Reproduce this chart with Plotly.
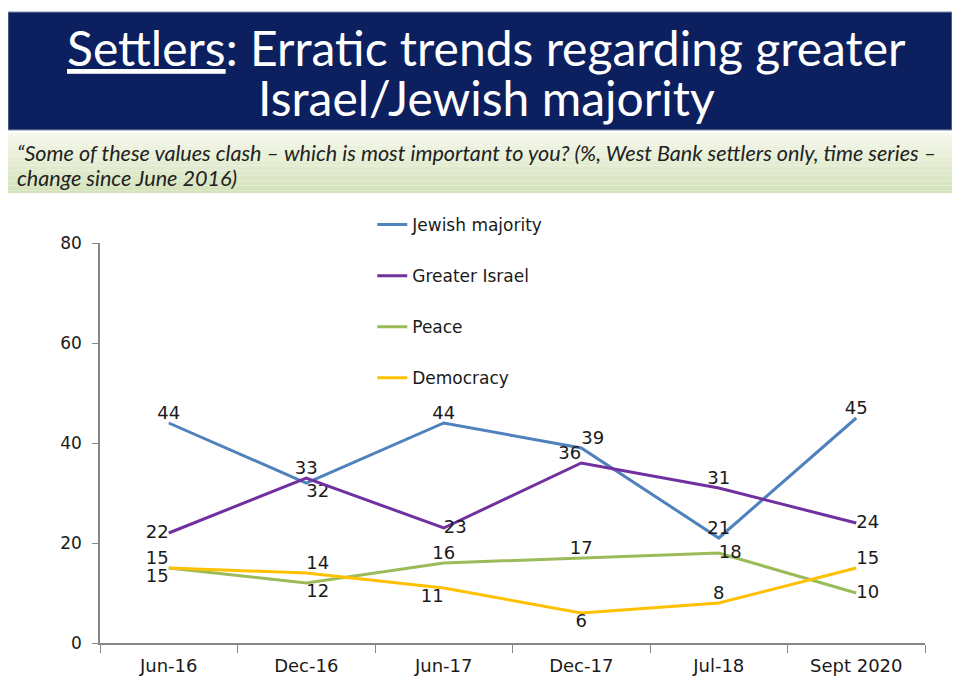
import plotly.graph_objects as go

# Data
PERIODS = ["Jun-16", "Dec-16", "Jun-17", "Dec-17", "Jul-18", "Sept 2020"]
JEWISH_MAJORITY = [44, 32, 44, 39, 21, 45]
GREATER_ISRAEL = [22, 33, 23, 36, 31, 24]
PEACE = [15, 12, 16, 17, 18, 10]
DEMOCRACY = [15, 14, 11, 6, 8, 15]

COLORS = {
    "navy": "#0C1F5F",
    "blue": "#4F81BD",
    "purple": "#7030A0",
    "green": "#9BBB59",
    "yellow": "#FFC000",
    "axis": "#868686",
    "text": "#1A1A1A",
}
CHART_FONT = "DejaVu Sans"

series = [
    ("Jewish majority", JEWISH_MAJORITY, COLORS["blue"],
     ["top center", "bottom right", "top center", "top right", "top center", "top center"]),
    ("Greater Israel", GREATER_ISRAEL, COLORS["purple"],
     ["middle left", "top center", "middle right", "top left", "top center", "middle right"]),
    ("Peace", PEACE, COLORS["green"],
     ["bottom left", "bottom right", "top center", "top center", "middle right", "middle right"]),
    ("Democracy", DEMOCRACY, COLORS["yellow"],
     ["top left", "top right", "bottom left", "bottom center", "top center", "top right"]),
]

fig = go.Figure()
for name, values, color, positions in series:
    fig.add_trace(
        go.Scatter(
            x=PERIODS,
            y=values,
            name=name,
            legendgroup=name,
            mode="lines+text",
            text=[str(v) for v in values],
            textposition=positions,
            textfont=dict(family=CHART_FONT, size=18, color=COLORS["text"]),
            line=dict(color=color, width=3),
            cliponaxis=False,
        )
    )

# title band + subtitle band (gradient made of thin strips)
BAND_X0, BAND_X1 = -0.1115, 1.0327
shapes = [
    dict(type="rect", xref="paper", yref="paper", layer="below",
         x0=BAND_X0, x1=BAND_X1, y0=1.2825, y1=1.5775,
         fillcolor=COLORS["navy"], line=dict(color="#7F8FA9", width=1)),
]
top_rgb = (244, 247, 234)
bot_rgb = (212, 226, 186)
n_strips = 24
y_top, y_bot = 1.275, 1.125
for i in range(n_strips):
    t = i / (n_strips - 1)
    r, g, b = (round(a + (c - a) * t) for a, c in zip(top_rgb, bot_rgb))
    shapes.append(dict(
        type="rect", xref="paper", yref="paper", layer="below",
        x0=BAND_X0, x1=BAND_X1,
        y0=y_top - (i + 1) * (y_top - y_bot) / n_strips,
        y1=y_top - i * (y_top - y_bot) / n_strips,
        fillcolor=f"rgb({r},{g},{b})", line=dict(width=0),
    ))

title_font = dict(family="Lato", size=48, color="white")
sub_font = dict(family="Lato", size=21.6, color="#222222")
annotations = [
    dict(text="<u>Settlers</u>: Erratic trends regarding greater",
         xref="paper", yref="paper", x=0.468, y=1.49, showarrow=False,
         xanchor="center", yanchor="middle", font=title_font),
    dict(text="Israel/Jewish majority",
         xref="paper", yref="paper", x=0.468, y=1.3625, showarrow=False,
         xanchor="center", yanchor="middle", font=title_font),
    dict(text="<i>\u201cSome of these values clash \u2013 which is most important to you? "
              "(%, West Bank settlers only, time series \u2013</i>",
         xref="paper", yref="paper", x=-0.103, y=1.225, showarrow=False,
         xanchor="left", yanchor="middle", font=sub_font),
    dict(text="<i>change since June 2016)</i>",
         xref="paper", yref="paper", x=-0.103, y=1.1625, showarrow=False,
         xanchor="left", yanchor="middle", font=sub_font),
]

fig.update_layout(
    width=960,
    height=679,
    margin=dict(l=92, r=43, t=235, b=44),
    paper_bgcolor="white",
    plot_bgcolor="white",
    font=dict(family=CHART_FONT, size=17, color=COLORS["text"]),
    showlegend=True,
    legend=dict(
        x=0.33, y=1.09, xanchor="left", yanchor="top",
        bgcolor="rgba(0,0,0,0)", traceorder="grouped",
        tracegroupgap=26, itemwidth=30,
        font=dict(family=CHART_FONT, size=17, color=COLORS["text"]),
    ),
    xaxis=dict(
        type="category", range=[-0.5, len(PERIODS) - 0.5],
        showline=True, linecolor=COLORS["axis"], linewidth=1.5,
        ticks="outside", tickson="boundaries", ticklen=8, tickcolor=COLORS["axis"],
        ticklabelstandoff=6, tickfont=dict(size=18),
        showgrid=False, zeroline=False,
    ),
    yaxis=dict(
        range=[0, 80], dtick=20, showline=True, linecolor=COLORS["axis"], linewidth=1.5,
        ticks="outside", ticklen=6, tickcolor=COLORS["axis"],
        ticklabelstandoff=7,
        showgrid=False, zeroline=False,
    ),
    shapes=shapes,
    annotations=annotations,
)

fig.write_html("out.html")
